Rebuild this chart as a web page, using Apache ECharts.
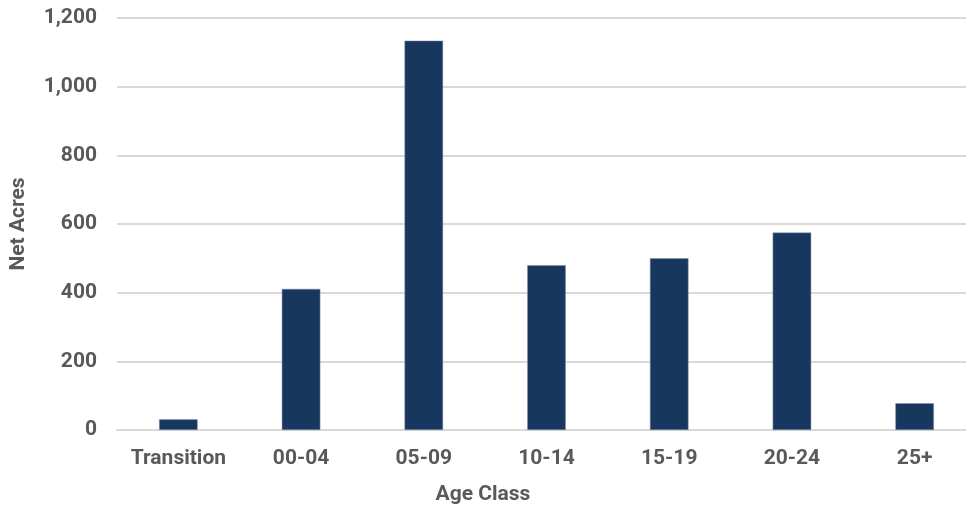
<!DOCTYPE html>
<html><head><meta charset="utf-8">
<script src="https://cdn.jsdelivr.net/npm/echarts@6/dist/echarts.min.js"></script>
<style>html,body{margin:0;padding:0;background:#fff;overflow:hidden}#c{width:966px;height:506px}</style>
</head><body><div id="c"></div>
<script>
const categories = ["Transition","00-04","05-09","10-14","15-19","20-24","25+"];
const netAcres = [31, 411, 1134, 480, 500, 575, 78];
const yMin = 0, yMax = 1200, yStep = 200;
const font = "Roboto";
const chart = echarts.init(document.getElementById('c'));
chart.setOption({
  animation:false,
  title:{text:'Age Class',left:'center',top:479,
    textStyle:{fontFamily:font,fontWeight:'bold',fontSize:21,color:'#595959'}},
  grid:{left:117,right:-10,top:18,bottom:76,outerBoundsMode:'none',containLabel:false},
  xAxis:{type:'category',data:categories,
    axisLine:{show:true,lineStyle:{color:'#d9d9d9',width:2}},axisTick:{show:false},
    axisLabel:{interval:0,fontFamily:font,fontWeight:'bold',fontSize:21,color:'#595959',margin:18}},
  yAxis:{type:'value',min:yMin,max:yMax,interval:yStep,
    name:'Net Acres',nameLocation:'middle',nameGap:88,
    nameTextStyle:{fontFamily:font,fontWeight:'bold',fontSize:21,color:'#595959'},
    axisLine:{show:false},axisTick:{show:false},
    splitLine:{lineStyle:{color:'#d9d9d9',width:2}},
    axisLabel:{fontFamily:font,fontWeight:'bold',fontSize:21,color:'#595959',margin:20,
      formatter:v=>v.toLocaleString('en-US')}},
  series:[{type:'bar',data:netAcres,barWidth:'31.4%',
    itemStyle:{color:'#17375e',borderColor:'#8497b0',borderWidth:0.5}}]
});
</script></body></html>
